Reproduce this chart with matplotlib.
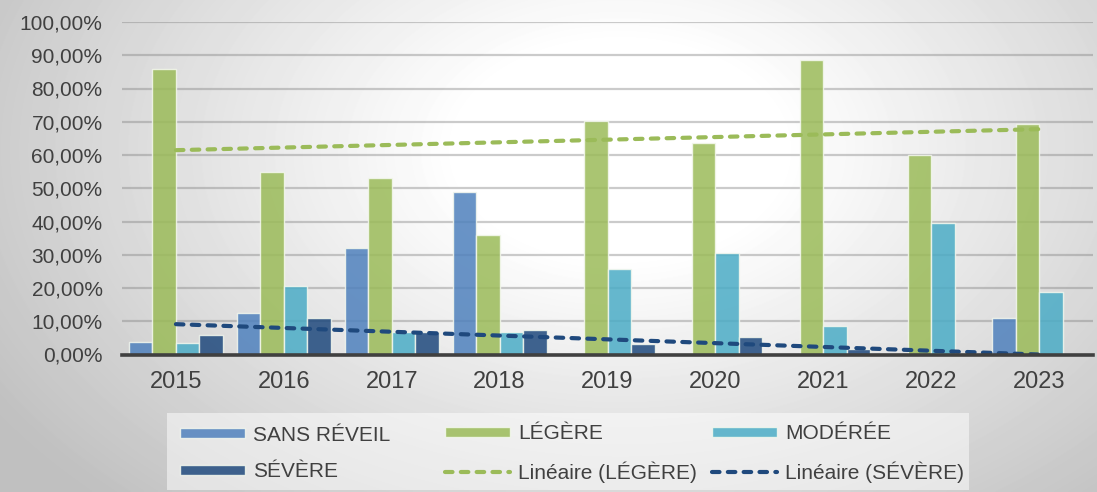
import matplotlib.pyplot as plt
import numpy as np
from matplotlib.patches import Rectangle
from matplotlib.ticker import FuncFormatter, MultipleLocator

plt.rcParams['font.family'] = ['Liberation Sans', 'DejaVu Sans']

years = ["2015", "2016", "2017", "2018", "2019", "2020", "2021", "2022", "2023"]
sans_reveil = [3.8, 12.4, 32.1, 48.8, 0.0, 0.0, 0.0, 0.0, 11.0]
legere = [86.0, 54.8, 53.2, 35.8, 70.2, 63.6, 88.6, 60.0, 69.3]
moderee = [3.4, 20.6, 6.9, 6.7, 25.6, 30.4, 8.7, 39.5, 18.7]
severe = [5.8, 11.0, 6.8, 7.3, 3.2, 5.2, 1.7, 0.0, 0.0]

series = [("SANS RÉVEIL", sans_reveil, "#4F81BD"),
          ("LÉGÈRE", legere, "#9BBB59"),
          ("MODÉRÉE", moderee, "#4BACC6"),
          ("SÉVÈRE", severe, "#1F497D")]

W, H = 1097, 492
fig = plt.figure(figsize=(W / 100, H / 100), dpi=100)

# soft radial grey background
bg = fig.add_axes([0, 0, 1, 1], zorder=-10)
yy, xx = np.mgrid[0:H, 0:W]
r = np.sqrt(((xx - 620) / 650.0) ** 2 + ((yy - 150) / 430.0) ** 2)
shade = 1.0 - 0.25 * np.clip((r - 0.25) / 0.9, 0, 1)
bg.imshow(shade, cmap="gray", vmin=0, vmax=1, aspect="auto", interpolation="bilinear")
bg.axis("off")

ax = fig.add_axes([122 / W, 1 - 354.5 / H, (1093 - 122) / W, (354.5 - 22) / H])
ax.set_facecolor("none")

x = np.arange(len(years))
step = 0.218
for i, (name, vals, col) in enumerate(series):
    ax.bar(x + (i - 1.5) * step, vals, width=step, color=col, alpha=0.85,
           edgecolor="#f4f8ee", linewidth=1.0, label=name, zorder=2)

# linear trendlines
for vals, col, name in [(legere, "#9BBB59", "Linéaire (LÉGÈRE)"),
                        (severe, "#1F497D", "Linéaire (SÉVÈRE)")]:
    k, b = np.polyfit(x, vals, 1)
    ax.plot(x, k * x + b, color=col, lw=3.0, linestyle=(0, (1.8, 2.0)),
            dash_capstyle="round", label=name, zorder=3)

ax.set_xlim(-0.5, len(years) - 0.5)
ax.set_ylim(0, 100)
ax.yaxis.set_major_locator(MultipleLocator(10))
ax.yaxis.set_major_formatter(FuncFormatter(lambda v, p: f"{v:.2f}%".replace(".", ",")))
ax.set_xticks(x, years)
ax.grid(axis="y", color="#7f7f7f", alpha=0.4, lw=1.6, zorder=0)
ax.set_axisbelow(True)
for s in ["left", "right", "top"]:
    ax.spines[s].set_visible(False)
ax.spines["bottom"].set_color("#404040")
ax.spines["bottom"].set_linewidth(2.6)
ax.spines["bottom"].set_zorder(4)
ax.tick_params(axis="y", length=0, pad=14, labelsize=15, labelcolor="#404040")
ax.tick_params(axis="x", length=0, pad=12, labelsize=17, labelcolor="#404040")

# legend panel
fig.patches.append(Rectangle((167 / W, 1 - 490 / H), (969 - 167) / W, (490 - 413) / H,
                             transform=fig.transFigure, facecolor="white",
                             alpha=0.5, edgecolor="none", zorder=-5))

handles, labels = ax.get_legend_handles_labels()
lookup = dict(zip(labels, handles))
columns = [(180, ["SANS RÉVEIL", "SÉVÈRE"]),
           (445, ["LÉGÈRE", "Linéaire (LÉGÈRE)"]),
           (712, ["MODÉRÉE", "Linéaire (SÉVÈRE)"])]
for px, labs in columns:
    leg = fig.legend([lookup[l] for l in labs], labs, loc="center left",
                     bbox_to_anchor=(px / W, 1 - 453.5 / H), frameon=False,
                     fontsize=15, handlelength=3.1, handleheight=0.4,
                     handletextpad=0.4, labelspacing=0.85, borderpad=0,
                     borderaxespad=0)
    for t in leg.get_texts():
        t.set_color("#404040")

fig.savefig("out.png", dpi=100)
